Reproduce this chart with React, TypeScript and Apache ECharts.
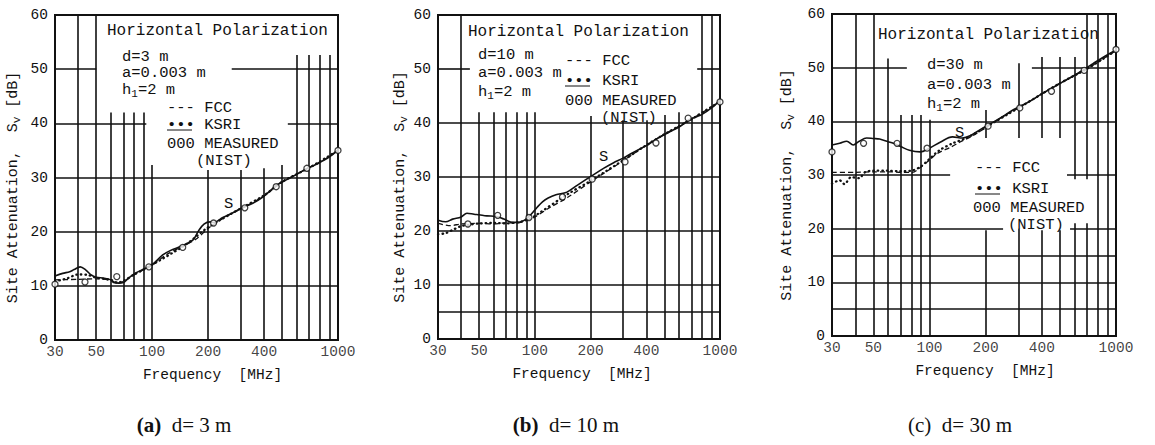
import React, { useEffect, useRef } from 'react';
import * as echarts from 'echarts';

// ---------- data ----------
const FREQ_TICKS = [30, 50, 100, 200, 400, 1000];

// Panel (a) d = 3 m
const S_A = [[30,11.8],[33,12.3],[36,12.6],[38,13.0],[41,13.5],[44,12.9],[47,12.0],[50,11.6],[55,11.4],[60,11.1],[62,10.6],[66,10.5],[70,10.6],[75,11.5],[80,12.2],[90,13.1],[100,13.9],[114,15.7],[125,16.5],[145,17.4],[166,18.5],[178,20.2],[190,21.4],[205,21.8],[215,21.7],[240,22.6],[272,23.5],[305,24.4],[350,25.3],[394,26.4],[430,27.5],[468,28.6],[530,29.6],[600,30.6],[685,31.7],[750,32.3],[818,33.0],[900,33.8],[1000,35.1]];
const FCC_A = [[30,11.1],[40,11.2],[50,11.3],[60,11.0],[65,10.5],[70,10.8],[80,12.0],[90,13.0],[100,13.8],[120,15.8],[150,17.5],[175,18.8],[200,20.6],[250,22.8],[300,24.2],[400,26.6],[500,29.2],[600,30.6],[700,31.8],[800,32.8],[1000,35.0]];
const KSRI_A = [[30,10.8],[35,11.4],[40,12.1],[45,12.0],[50,11.5],[60,11.1],[65,10.6],[70,10.9],[80,12.1],[90,13.0],[100,13.9],[150,17.5],[200,20.8],[300,24.3],[400,26.7],[500,29.2],[700,31.8],[1000,35.0]];
const MEAS_A = [[30,10.3],[43.5,10.7],[64.5,11.7],[96,13.5],[146,17.1],[214,21.6],[315,24.4],[465,28.3],[680,31.7],[1000,35.0]];

// Panel (b) d = 10 m
const S_B = [[30,22.0],[33,21.7],[36,22.2],[40,22.6],[43,23.3],[47,23.1],[50,23.0],[55,22.8],[62,22.7],[68,22.2],[76,21.6],[82,21.6],[88,22.0],[95,23.0],[103,24.4],[110,25.4],[118,26.1],[130,26.7],[149,27.2],[170,28.5],[207,30.4],[235,31.6],[265,32.6],[300,33.5],[338,34.5],[400,35.8],[457,37.1],[530,38.3],[610,39.4],[680,40.6],[740,41.1],[800,41.6],[900,42.8],[1000,44.2]];
const FCC_B = [[30,21.4],[35,21.0],[40,21.3],[50,21.4],[60,21.3],[70,21.5],[80,21.5],[90,22.0],[100,22.6],[120,24.3],[150,26.2],[200,29.1],[300,33.0],[400,35.9],[500,37.9],[700,40.7],[1000,44.0]];
const KSRI_B = [[30,19.4],[33,19.6],[36,20.2],[40,20.9],[45,21.2],[50,21.4],[60,21.5],[70,21.4],[80,21.6],[90,22.0],[100,22.8],[150,26.8],[200,29.3],[300,33.1],[400,35.9],[500,37.9],[700,40.7],[1000,44.0]];
const MEAS_B = [[43.5,21.3],[63,22.9],[93,22.5],[141,26.3],[204,29.6],[307,32.8],[451,36.3],[673,40.9],[1000,43.9]];

// Panel (c) d = 30 m
const S_C = [[30,35.6],[33,35.9],[36,36.3],[39,35.6],[42,36.3],[46,36.9],[50,36.8],[54,36.7],[60,36.2],[64,35.9],[70,35.3],[78,34.6],[89,34.3],[100,35.0],[114,36.1],[133,37.1],[150,36.9],[165,37.3],[186,38.4],[219,39.8],[250,41.0],[280,42.1],[340,43.6],[403,45.2],[460,46.3],[515,47.3],[580,48.3],[661,49.5],[750,50.7],[850,51.9],[1000,53.3]];
const FCC_C = [[30,30.5],[40,30.5],[50,30.6],[60,30.6],[70,30.5],[81,30.5],[90,31.5],[97,32.4],[110,34.0],[130,35.2],[145,36.1],[170,37.3],[200,38.8],[250,41.0],[300,42.5],[400,45.1],[500,47.1],[700,49.8],[1000,53.2]];
const KSRI_C = [[30,28.4],[33,29.0],[35,28.3],[38,29.6],[42,29.4],[45,30.5],[50,30.8],[60,30.8],[70,30.7],[80,30.8],[90,31.6],[100,33.0],[113,34.6],[133,35.9],[160,37.0],[200,38.9],[300,42.5],[400,45.1],[500,47.1],[700,49.8],[1000,53.2]];
const MEAS_C = [[30,34.3],[44.3,35.9],[67,35.9],[97,35.0],[206,39.1],[305,42.5],[451,45.6],[675,49.5],[1000,53.4]];

const CAPTION_TAGS = ['(a)', '(b)', '(c)'];
const CAPTION_TEXTS = ['d= 3 m', 'd= 10 m', 'd= 30 m'];
const DIST_TEXTS = ['d=3 m', 'd=10 m', 'd=30 m'];

// grid line segments (visible parts of the printed grid): [value, from, to]
const VGRID_A = [[40,0,60],[50,0,60],[60,0,42],[70,0,42],[80,0,42],[90,0,42],[100,0,32.3],[200,0,31.4],[300,0,31.4],[400,0,31.7],[500,0,32.3],[600,0,52.6],[700,0,52.6],[800,0,52.6],[900,0,52.6]];
const HGRID_A = [[10,30,1000],[20,30,1000],[30,30,1000],[40,30,93],[40,537,1000],[50,30,50],[50,268,1000]];
const VGRID_B = [[40,0,60],[50,0,42],[60,0,42],[70,0,42],[80,0,42],[90,0,42],[100,0,42],[200,0,41.3],[300,0,40.5],[400,0,40.5],[500,0,41.5],[600,0,42],[700,0,41],[800,0,60],[900,0,60]];
const HGRID_B = [[5,30,1000],[10,30,1000],[20,30,1000],[30,30,1000],[40,30,1000],[50,30,44.6],[50,753,1000]];
const VGRID_C = [[40,0,60],[50,0,60],[60,0,51.7],[70,0,41.2],[80,0,41.2],[90,0,41.2],[100,0,40.3],[200,0,19.7],[200,36.9,42.1],[300,0,20],[300,36.9,50.8],[400,0,19.7],[400,36.9,52],[500,0,19.7],[500,36.9,52],[600,0,21],[600,29.2,52],[700,0,21],[700,29.2,60],[800,0,60],[900,0,60]];
const HGRID_C = [[5,30,1000],[10,30,1000],[15,30,1000],[20,30,248],[20,567,1000],[30,30,129],[30,546,1000],[40,30,1000],[50,30,75.6],[50,354,1000]];

// ---------- layout ----------
const MONO = '"Liberation Mono","DejaVu Sans Mono",monospace';
const SERIF = '"Liberation Serif","DejaVu Serif",serif';
const INK = '#111';

const PANELS = [
  { left: 55, top: 15, width: 283, height: 325, s: S_A, fcc: FCC_A, ksri: KSRI_A, meas: MEAS_A, vg: VGRID_A, hg: HGRID_A, nameGap: 33, freqPad: 32, capX: 184,
    title: [107, 31], dist: [122, 57], a: [122, 73], h: [122, 90], fcc_t: [167, 108], ksri_t: [167, 125], meas_t: [167, 144], nist: [196, 161], sLabel: [224, 204] },
  { left: 438, top: 15, width: 282, height: 324, s: S_B, fcc: FCC_B, ksri: KSRI_B, meas: MEAS_B, vg: VGRID_B, hg: HGRID_B, nameGap: 29, freqPad: 6, capX: 566,
    title: [468, 32], dist: [478, 55], a: [478, 73], h: [478, 92], fcc_t: [565, 61], ksri_t: [565, 81], meas_t: [565, 101], nist: [601, 118], sLabel: [599, 157] },
  { left: 832, top: 14, width: 284, height: 322, s: S_C, fcc: FCC_C, ksri: KSRI_C, meas: MEAS_C, vg: VGRID_C, hg: HGRID_C, nameGap: 36, freqPad: 22, capX: 960,
    title: [878, 35], dist: [927, 65], a: [927, 85], h: [927, 104], fcc_t: [975, 168], ksri_t: [975, 189], meas_t: [973, 208], nist: [1008, 225], sLabel: [955, 133] },
];

const gridSegments = (v: number[][], h: number[][]) => [
  ...v.map(([f, a, b]) => [{ coord: [f, a] }, { coord: [f, b] }]),
  ...h.map(([y, a, b]) => [{ coord: [a, y] }, { coord: [b, y] }]),
];

const txt = (x: number, y: number, text: string, extra: any = {}) => ({
  type: 'text', x, y, z: 10, silent: true,
  style: { text, fontFamily: MONO, fontSize: 15.5, fill: INK, verticalAlign: 'middle', align: 'left', ...extra },
});

export default function App() {
  const ref = useRef<HTMLDivElement>(null);
  useEffect(() => {
    const chart = echarts.init(ref.current!, null, { renderer: 'svg' });
    const grid: any[] = [], xAxis: any[] = [], yAxis: any[] = [], series: any[] = [], graphic: any[] = [];
    PANELS.forEach((p, i) => {
      grid.push({ left: p.left, top: p.top, width: p.width, height: p.height, show: true, borderColor: INK, borderWidth: 2, backgroundColor: 'transparent' });
      xAxis.push({
        type: 'log', logBase: 10, min: 30, max: 1000, gridIndex: i,
        axisLine: { show: false }, axisTick: { show: false }, axisLabel: { show: false }, splitLine: { show: false },
        name: 'Frequency  [MHz]', nameLocation: 'middle', nameGap: 27,
        nameTextStyle: { fontFamily: MONO, fontSize: 14.5, color: INK, padding: [0, 0, 0, p.freqPad] },
      });
      yAxis.push({
        type: 'value', min: 0, max: 60, interval: 10, gridIndex: i,
        axisLine: { show: false }, axisTick: { show: false }, splitLine: { show: false },
        axisLabel: { fontFamily: MONO, fontSize: 14.5, color: INK, margin: 7 },
        name: 'Site Attenuation,  S{s|v} [dB]', nameLocation: 'middle', nameRotate: 90, nameGap: p.nameGap,
        nameTextStyle: { fontFamily: MONO, fontSize: 15, color: INK, padding: [0, 20, 0, 0],
          rich: { s: { fontFamily: MONO, fontSize: 11, color: INK, padding: [7, 0, 0, 0] } } },
      });
      series.push({
        name: 'S', type: 'line', xAxisIndex: i, yAxisIndex: i, data: p.s, showSymbol: false, smooth: 0.35, z: 4,
        lineStyle: { color: INK, width: 1.6 },
        markLine: {
          silent: true, symbol: ['none', 'none'], label: { show: false }, z: 1,
          lineStyle: { color: INK, width: 1.6, type: 'solid' }, emphasis: { disabled: true },
          data: gridSegments(p.vg, p.hg),
        },
      });
      series.push({
        name: 'FCC', type: 'line', xAxisIndex: i, yAxisIndex: i, data: p.fcc, showSymbol: false, smooth: 0.3, z: 3,
        lineStyle: { color: INK, width: 1.3, type: [5, 3] },
      });
      series.push({
        name: 'KSRI', type: 'line', xAxisIndex: i, yAxisIndex: i, data: p.ksri, showSymbol: false, smooth: 0.3, z: 3,
        lineStyle: { color: INK, width: 2.3, type: [0.5, 4], cap: 'round' },
      });
      series.push({
        name: 'MEASURED (NIST)', type: 'scatter', xAxisIndex: i, yAxisIndex: i, data: p.meas, symbol: 'circle', symbolSize: 6, z: 5,
        itemStyle: { color: '#fff', borderColor: INK, borderWidth: 1.3 },
      });
      series.push({
        name: 'ticks', type: 'scatter', xAxisIndex: i, yAxisIndex: i, symbolSize: 0, clip: false, silent: true,
        data: FREQ_TICKS.map((f) => [f, 0]),
        label: { show: true, position: 'bottom', distance: 4, fontFamily: MONO, fontSize: 14.5, color: INK, formatter: (q: any) => String(q.value[0]) },
      });

      graphic.push(txt(p.title[0], p.title[1], 'Horizontal Polarization', { fontSize: 16 }));
      graphic.push(txt(p.dist[0], p.dist[1], DIST_TEXTS[i]));
      graphic.push(txt(p.a[0], p.a[1], 'a=0.003 m'));
      graphic.push(txt(p.h[0], p.h[1], 'h{s|1}=2 m', { rich: { s: { fontFamily: MONO, fontSize: 11, fill: INK, padding: [7, 0, 0, 0] } } }));
      graphic.push(txt(p.fcc_t[0], p.fcc_t[1], '--- FCC'));
      graphic.push(txt(p.ksri_t[0], p.ksri_t[1], '\u2022\u2022\u2022 KSRI'));
      graphic.push({ type: 'line', z: 10, silent: true, shape: { x1: p.ksri_t[0], y1: p.ksri_t[1] + 5, x2: p.ksri_t[0] + 25, y2: p.ksri_t[1] + 5 }, style: { stroke: INK, lineWidth: 1 } });
      graphic.push(txt(p.meas_t[0], p.meas_t[1], '000 MEASURED'));
      graphic.push(txt(p.nist[0], p.nist[1], '(NIST)'));
      graphic.push(txt(p.sLabel[0], p.sLabel[1], 'S'));
      graphic.push({
        type: 'text', x: p.capX, y: 425, z: 10, silent: true,
        style: { text: '{b|' + CAPTION_TAGS[i] + '}  ' + CAPTION_TEXTS[i], fontFamily: SERIF, fontSize: 21, fill: INK, align: 'center', verticalAlign: 'middle',
          rich: { b: { fontFamily: SERIF, fontSize: 21, fontWeight: i < 2 ? 'bold' : 'normal', fill: INK } } },
      });
    });
    chart.setOption({ animation: false, backgroundColor: '#fff', grid, xAxis, yAxis, series, graphic });
    return () => chart.dispose();
  }, []);
  return <div ref={ref} style={{ position: 'fixed', left: 0, top: 0, width: 1155, height: 445, background: '#fff' }} />;
}
